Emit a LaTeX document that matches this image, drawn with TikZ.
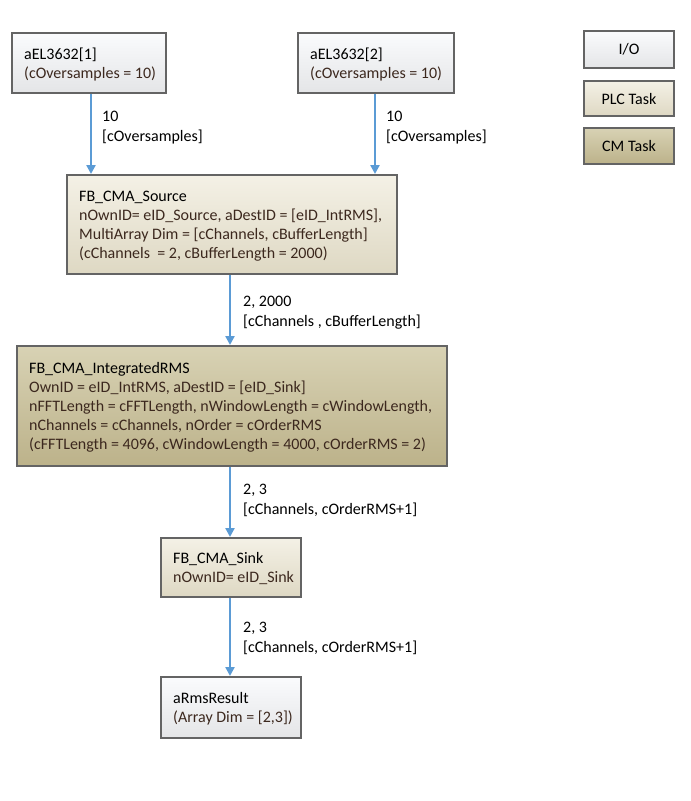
\documentclass[tikz,border=0pt]{standalone}
\usepackage{fontspec}
\setmainfont{Carlito}
\usetikzlibrary{arrows.meta}
\definecolor{bordc}{RGB}{100,100,100}
\definecolor{arrc}{RGB}{91,155,213}
\definecolor{txtb}{RGB}{60,40,30}
\definecolor{ioT}{RGB}{250,251,253}
\definecolor{ioB}{RGB}{228,229,231}
\definecolor{plcT}{RGB}{244,241,230}
\definecolor{plcB}{RGB}{222,216,195}
\definecolor{cmT}{RGB}{216,210,180}
\definecolor{cmB}{RGB}{188,178,138}
\tikzset{
  box/.style={draw=bordc, line width=2pt, rectangle, anchor=north west, inner sep=0pt},
  iobox/.style={box, top color=ioT, bottom color=ioB},
  plcbox/.style={box, top color=plcT, bottom color=plcB},
  cmbox/.style={box, top color=cmT, bottom color=cmB},
  sz/.style 2 args={minimum width=#1pt, minimum height=#2pt},
  boxtxt/.style={anchor=west, align=left, inner sep=0pt, xshift=13pt, yshift=-1.5pt,
     font=\fontsize{16}{19}\selectfont},
  legbox/.style={draw=bordc, line width=2pt, rectangle, anchor=north west, inner sep=0pt, align=center,
     minimum width=90pt, font=\fontsize{16}{19}\selectfont},
  flow/.style={draw=arrc, line width=2.8pt, -{Triangle[length=9pt,width=9pt]}},
  lbl/.style={anchor=north west, align=left, inner sep=0pt, font=\fontsize{16}{19.5}\selectfont}
}
\begin{document}
\begin{tikzpicture}[x=1pt,y=-1pt]
\useasboundingbox (0,0) rectangle (691,801);
% boxes
\node[iobox, sz={154}{60}] (in1) at (11,32) {};
\node[boxtxt] (in1t) at (in1.west) {aEL3632[1]\\\textcolor{txtb}{(cOversamples = 10)}};
\node[iobox, sz={156}{60}] (in2) at (297,32) {};
\node[boxtxt] (in2t) at (in2.west) {aEL3632[2]\\\textcolor{txtb}{(cOversamples = 10)}};
\node[plcbox, sz={330}{99}] (src) at (66,174) {};
\node[boxtxt] (srct) at (src.west) {FB\_CMA\_Source\\\textcolor{txtb}{nOwnID= eID\_Source, aDestID = [eID\_IntRMS],}\\\textcolor{txtb}{MultiArray Dim = [cChannels, cBufferLength]}\\\textcolor{txtb}{(cChannels\ \ = 2, cBufferLength = 2000)}};
\node[cmbox, sz={430}{120}] (rms) at (16,345) {};
\node[boxtxt] (rmst) at (rms.west) {FB\_CMA\_IntegratedRMS\\\textcolor{txtb}{OwnID = eID\_IntRMS, aDestID = [eID\_Sink]}\\\textcolor{txtb}{nFFTLength = cFFTLength, nWindowLength = cWindowLength,}\\\textcolor{txtb}{nChannels = cChannels, nOrder = cOrderRMS}\\\textcolor{txtb}{(cFFTLength = 4096, cWindowLength = 4000, cOrderRMS = 2)}};
\node[plcbox, sz={140}{59}] (sink) at (160,537) {};
\node[boxtxt] (sinkt) at (sink.west) {FB\_CMA\_Sink\\\textcolor{txtb}{nOwnID= eID\_Sink}};
\node[iobox, sz={140}{61}] (res) at (160,676) {};
\node[boxtxt] (rest) at (res.west) {aRmsResult\\\textcolor{txtb}{(Array Dim = [2,3])}};
% legend
\node[legbox, minimum height=37pt, top color=ioT, bottom color=ioB] (lio) at (583,30) {I/O};
\node[legbox, minimum height=35pt, top color=plcT, bottom color=plcB] (lplc) at (583,80) {PLC Task};
\node[legbox, minimum height=36pt, top color=cmT, bottom color=cmB] (lcm) at (583,127) {CM Task};
% connectors
\coordinate (a1) at (91,92);
\coordinate (a2) at (375,92);
\coordinate (mid) at (230,0);
\draw[flow] (in1.south -| a1) -- (src.north -| a1);
\draw[flow] (in2.south -| a2) -- (src.north -| a2);
\draw[flow] (src.south -| mid) -- (rms.north -| mid);
\draw[flow] (rms.south -| mid) -- (sink.north -| mid);
\draw[flow] (sink.south -| mid) -- (res.north -| mid);
% labels
\node[lbl] (l1) at (102,111) {10\\{}[cOversamples]};
\node[lbl] (l2) at (386,111) {10\\{}[cOversamples]};
\node[lbl] (l3) at (243,296) {2, 2000\\{}[cChannels , cBufferLength]};
\node[lbl] (l4) at (243,484) {2, 3\\{}[cChannels, cOrderRMS+1]};
\node[lbl] (l5) at (243,622) {2, 3\\{}[cChannels, cOrderRMS+1]};
\end{tikzpicture}
\end{document}
